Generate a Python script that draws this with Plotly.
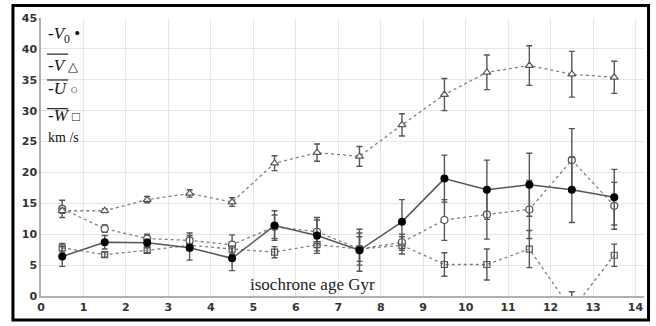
import plotly.graph_objects as go

# Isochrone age bins (Gyr)
age = [0.5, 1.5, 2.5, 3.5, 4.5, 5.5, 6.5, 7.5, 8.5, 9.5, 10.5, 11.5, 12.5, 13.5]

# -V0 (filled circles, solid line)
v0 = [6.4, 8.7, 8.6, 7.8, 6.1, 11.4, 9.8, 7.4, 12.0, 19.0, 17.2, 18.0, 17.2, 16.0]
v0_err = [1.6, 1.1, 0.6, 2.0, 2.0, 2.4, 2.9, 3.4, 3.6, 3.8, 4.8, 5.1, 5.3, 4.5]

# -V mean (open triangles)
v_mean = [13.8, 13.8, 15.6, 16.6, 15.2, 21.5, 23.2, 22.6, 27.7, 32.6, 36.2, 37.3, 35.9, 35.4]
v_err = [0.4, 0.3, 0.5, 0.6, 0.7, 1.2, 1.4, 1.6, 1.8, 2.6, 2.8, 3.2, 3.7, 2.6]

# -U mean (open circles)
u_mean = [14.1, 10.9, 9.3, 9.0, 8.3, 11.2, 10.4, 7.6, 8.7, 12.3, 13.2, 14.0, 22.0, 14.6]
u_err = [1.4, 0.6, 0.7, 1.2, 1.6, 1.9, 1.9, 2.6, 1.3, 3.3, 4.0, 4.7, 5.1, 3.8]

# -W mean (open squares)
w_mean = [7.8, 6.7, 7.4, 8.2, 7.6, 7.1, 8.3, 7.6, 8.2, 5.1, 5.1, 7.6, -2.3, 6.6]
w_err = [0.7, 0.4, 0.4, 0.9, 0.8, 0.9, 1.0, 2.0, 1.4, 1.9, 2.5, 3.0, 3.0, 1.8]

x_ticks = list(range(0, 15))
y_ticks = list(range(0, 46, 5))

ERR = "#555555"
DOT = "#808080"


def err(vals):
    return dict(type="data", array=vals, visible=True, color=ERR, thickness=1.4, width=3)


fig = go.Figure()

fig.add_trace(go.Scatter(
    x=age, y=w_mean, mode="lines+markers", error_y=err(w_err),
    line=dict(color=DOT, width=1.3, dash="dot"),
    marker=dict(symbol="square-open", size=6, color="#555555", line=dict(width=1.2)),
))
fig.add_trace(go.Scatter(
    x=age, y=u_mean, mode="lines+markers", error_y=err(u_err),
    line=dict(color=DOT, width=1.3, dash="dot"),
    marker=dict(symbol="circle", size=7, color="white", line=dict(color="#555555", width=1.2)),
))
fig.add_trace(go.Scatter(
    x=age, y=v_mean, mode="lines+markers", error_y=err(v_err),
    line=dict(color=DOT, width=1.3, dash="dot"),
    marker=dict(symbol="triangle-up", size=7, color="white", line=dict(color="#555555", width=1.2)),
))
fig.add_trace(go.Scatter(
    x=age, y=v0, mode="lines+markers", error_y=err(v0_err),
    line=dict(color="#555555", width=1.5),
    marker=dict(symbol="circle", size=8, color="black"),
))

tick_font = dict(family="DejaVu Sans", size=11, color="#333333", weight="bold")

fig.update_xaxes(
    range=[0, 14.2], tickvals=x_ticks, showgrid=True, gridcolor="#e6e6e6", gridwidth=1,
    showline=True, linecolor="#b0b0b0", linewidth=1.5, zeroline=False,
    ticks="", tickfont=tick_font,
)
fig.update_yaxes(
    range=[0, 45], tickvals=y_ticks, showgrid=True, gridcolor="#e6e6e6", gridwidth=1,
    showline=True, linecolor="#b0b0b0", linewidth=1.5, zeroline=False,
    ticks="", tickfont=tick_font,
)

serif = "Liberation Serif"


def sym(ch):
    return "<span style='font-size:13px'>" + ch + "</span>"


legend_rows = [
    ("-<i>V</i><sub>0</sub> \u2022", 0.940),
    ("-<i>V</i> " + sym("\u25b3"), 0.828),
    ("-<i>U</i> " + sym("\u25cb"), 0.746),
    ("-<i>W</i> " + sym("\u25a1"), 0.650),
]
annotations = []
for txt, yy in legend_rows:
    annotations.append(dict(
        text=txt, xref="paper", yref="paper", x=0.008, y=yy,
        xanchor="left", yanchor="middle", showarrow=False,
        font=dict(family=serif, size=17, color="#111111"),
    ))
annotations.append(dict(
    text="km /s", xref="paper", yref="paper", x=0.008, y=0.570,
    xanchor="left", yanchor="middle", showarrow=False,
    font=dict(family=serif, size=14, color="#111111"),
))
annotations.append(dict(
    text="isochrone age Gyr", x=6.4, y=1.8, xref="x", yref="y",
    xanchor="center", yanchor="middle", showarrow=False,
    font=dict(family=serif, size=17, color="#222222"),
))

# bars over the mean-velocity symbols, and the outer frame
shapes = []
for yy in (0.870, 0.777, 0.674):
    shapes.append(dict(type="line", xref="paper", yref="paper",
                       x0=0.010, x1=0.045, y0=yy, y1=yy,
                       line=dict(color="#222222", width=1.2)))
shapes.append(dict(type="rect", xref="paper", yref="paper",
                   x0=-0.0465, x1=1.0075, y0=-0.0865, y1=1.045,
                   line=dict(color="black", width=3)))

fig.update_layout(
    width=656, height=326,
    margin=dict(l=41, r=12, t=15, b=29),
    plot_bgcolor="white", paper_bgcolor="white",
    showlegend=False,
    annotations=annotations,
    shapes=shapes,
)

fig.write_html("out.html")
